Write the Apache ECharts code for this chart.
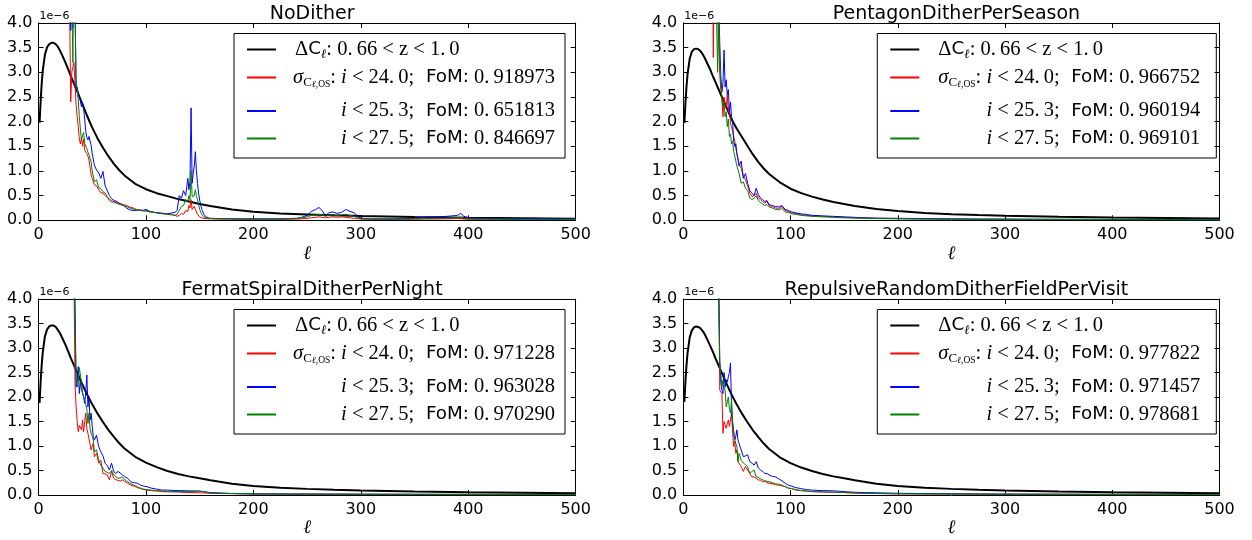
<!DOCTYPE html>
<html><head><meta charset="utf-8">
<script src="https://cdn.jsdelivr.net/npm/echarts/dist/echarts.min.js"></script>
<style>html,body{margin:0;padding:0;background:#fff}#c{width:1252px;height:540px}</style>
</head><body><div id="c"></div>
<script>
// ---------------- data (values in units of 1e-6) ----------------
const panelTitles = ['NoDither', 'PentagonDitherPerSeason', 'FermatSpiralDitherPerNight', 'RepulsiveRandomDitherFieldPerVisit'];
const xTicks = [0, 100, 200, 300, 400, 500];
const yTicks = [0.0, 0.5, 1.0, 1.5, 2.0, 2.5, 3.0, 3.5, 4.0];
const cutLabels = ['i < 24.0;', 'i < 25.3;', 'i < 27.5;'];
const fomND = ['0.918973', '0.651813', '0.846697'];
const fomPD = ['0.966752', '0.960194', '0.969101'];
const fomFS = ['0.971228', '0.963028', '0.970290'];
const fomRR = ['0.977822', '0.971457', '0.978681'];

// Delta C_ell (black)
const ellBlack = [1,2,3,4,6,8,10,12,14,16, 18,20,22,25,28,30,35,40,45,50, 55,60,65,70,75,80,90,100,110,120, 130,140,150,160,180,200,225,250,275,300, 350,400,450,500];
const blackND = [1.98,2.42,2.78,3.04,3.36,3.51,3.57,3.6,3.6,3.57, 3.52,3.44,3.35,3.2,3.04,2.93,2.67,2.4,2.13,1.88, 1.66,1.47,1.3,1.15,1.02,0.91,0.74,0.63,0.55,0.49, 0.43,0.38,0.33,0.29,0.22,0.175,0.14,0.12,0.1,0.085, 0.065,0.05,0.04,0.03];
const blackPD = [1.97,2.38,2.72,2.97,3.28,3.42,3.47,3.48,3.47,3.43, 3.37,3.29,3.2,3.06,2.9,2.8,2.55,2.3,2.05,1.85, 1.68,1.5,1.33,1.18,1.05,0.94,0.77,0.64,0.55,0.48, 0.42,0.37,0.33,0.29,0.23,0.19,0.15,0.125,0.105,0.09, 0.07,0.055,0.045,0.035];
const blackFS = [1.88,2.32,2.66,2.92,3.24,3.38,3.44,3.46,3.46,3.43, 3.37,3.3,3.21,3.07,2.91,2.8,2.55,2.3,2.06,1.85, 1.66,1.49,1.33,1.19,1.06,0.95,0.78,0.66,0.57,0.49, 0.43,0.38,0.34,0.3,0.23,0.185,0.15,0.125,0.105,0.09, 0.07,0.055,0.045,0.035];
const blackRR = [1.9,2.32,2.65,2.9,3.22,3.36,3.42,3.44,3.43,3.4, 3.35,3.28,3.19,3.05,2.9,2.79,2.54,2.29,2.05,1.84, 1.65,1.48,1.32,1.18,1.05,0.94,0.77,0.65,0.56,0.49, 0.43,0.38,0.34,0.3,0.23,0.185,0.15,0.125,0.105,0.09, 0.07,0.055,0.045,0.035];

// NoDither sigma curves
const ellND = [28,29,30,31,32,33,34,35,36,37, 38,39,40,41,42,43,44,45,46,47, 48,49,50,52,54,56,58,60,62,64, 66,68,70,73,76,79,82,85,88,91, 94,97,100,104,108,112,116,120,124,127, 129,131,133,135,137,139,140,141,142,143, 144,145,146,147,148,149,150,152,154,156, 158,160,170,180,190,200,210,220,230,240, 245,250,254,258,261,264,267,270,274,278, 282,286,290,294,298,302,310,320,330,340, 350,360,370,380,385,390,393,396,400,410, 420,440,460,480,500];
const redND = [6,6,2.4,3.0,3.1,3.2,2.75,2.35,2.1,1.9, 1.65,1.55,1.68,1.5,1.65,1.42,1.45,1.35,1.3,1.22, 1.08,0.92,0.85,0.72,0.7,0.62,0.56,0.55,0.5,0.46, 0.43,0.4,0.38,0.36,0.34,0.32,0.3,0.27,0.25,0.22, 0.21,0.2,0.19,0.17,0.16,0.15,0.14,0.13,0.12,0.1, 0.08,0.1,0.14,0.12,0.2,0.18,0.3,0.25,0.42,0.22, 0.2,0.28,0.22,0.18,0.12,0.1,0.07,0.05,0.04,0.035, 0.03,0.03,0.025,0.025,0.02,0.02,0.02,0.02,0.02,0.025, 0.03,0.04,0.05,0.06,0.07,0.06,0.05,0.06,0.07,0.06, 0.07,0.06,0.05,0.04,0.03,0.025,0.02,0.02,0.02,0.02, 0.02,0.025,0.025,0.03,0.03,0.035,0.03,0.025,0.02,0.02, 0.02,0.018,0.018,0.015,0.015];
const blueND = [6,6,3.85,4.6,3.9,6,4.4,2.65,2.7,2.58, 2.5,2.42,2.3,2.38,2.26,2.05,1.8,1.68,1.63,1.7, 1.7,1.52,1.35,1.12,1.02,0.96,0.85,0.99,0.7,0.6, 0.5,0.44,0.41,0.38,0.33,0.3,0.25,0.21,0.2,0.2, 0.21,0.2,0.22,0.18,0.16,0.15,0.14,0.13,0.15,0.16, 0.2,0.5,0.45,0.6,0.5,0.85,0.62,0.8,2.28,0.75, 0.95,1.1,1.39,1.0,0.75,0.55,0.41,0.22,0.12,0.07, 0.05,0.04,0.035,0.03,0.03,0.03,0.03,0.03,0.035,0.04, 0.06,0.1,0.18,0.22,0.26,0.2,0.09,0.15,0.17,0.14, 0.16,0.22,0.18,0.15,0.06,0.04,0.03,0.03,0.03,0.035, 0.04,0.06,0.07,0.08,0.09,0.1,0.14,0.08,0.05,0.04, 0.035,0.03,0.04,0.03,0.03];
const greenND = [6,6,6,4.5,3.2,6,4.2,2.85,2.65,2.45, 2.1,1.85,1.63,1.72,1.78,1.56,1.52,1.45,1.38,1.33, 1.29,1.18,1.0,0.78,0.82,0.66,0.64,0.58,0.55,0.48, 0.4,0.37,0.37,0.34,0.32,0.3,0.28,0.25,0.23,0.21, 0.2,0.19,0.19,0.17,0.16,0.14,0.13,0.12,0.11,0.1, 0.12,0.2,0.28,0.3,0.42,0.38,0.5,0.42,1.0,0.48, 0.45,0.5,0.62,0.5,0.42,0.32,0.22,0.12,0.07,0.05, 0.04,0.035,0.03,0.03,0.025,0.025,0.025,0.025,0.03,0.035, 0.05,0.07,0.1,0.11,0.12,0.11,0.08,0.1,0.11,0.1, 0.11,0.12,0.1,0.08,0.04,0.03,0.025,0.025,0.025,0.025, 0.03,0.035,0.04,0.045,0.05,0.055,0.06,0.045,0.03,0.025, 0.025,0.02,0.02,0.02,0.02];

// PentagonDitherPerSeason sigma curves
const ellPD = [27,28,29,30,31,32,33,34,35,36, 37,38,39,40,41,42,43,44,45,46, 47,48,49,50,52,54,56,58,60,62, 64,66,68,70,72,74,76,78,80,83, 86,89,92,95,98,101,105,110,115,120, 130,140,150,160,170,180,200,220,250,275, 300,325,350,375,400,425,450,475,500];
const redPD = [6,3.3,6,6,6,4.5,3.6,2.95,2.65,2.45, 2.1,2.5,2.35,2.3,2.55,2.2,2.3,1.95,1.9,1.8, 1.7,1.6,1.45,1.35,1.15,1.05,0.9,0.82,0.7,0.55, 0.48,0.5,0.55,0.45,0.42,0.38,0.35,0.38,0.3,0.28, 0.25,0.24,0.28,0.2,0.18,0.15,0.14,0.11,0.1,0.09, 0.08,0.07,0.06,0.05,0.045,0.04,0.035,0.03,0.025,0.022, 0.02,0.02,0.02,0.018,0.015,0.015,0.015,0.012,0.012];
const bluePD = [6,6,6,6,6,6,4.5,3.6,2.9,2.6, 2.8,3.45,2.7,2.85,2.55,2.65,2.2,2.4,2.1,2.0, 1.6,1.5,1.55,1.35,1.1,1.2,0.85,0.95,0.75,0.6, 0.55,0.5,0.65,0.52,0.45,0.42,0.38,0.4,0.32,0.3, 0.28,0.27,0.3,0.22,0.2,0.17,0.15,0.13,0.12,0.1, 0.09,0.08,0.07,0.06,0.05,0.045,0.04,0.035,0.03,0.025, 0.025,0.022,0.02,0.02,0.018,0.018,0.015,0.015,0.015];
const greenPD = [6,6,6,6,4.2,3.0,4.5,3.2,2.8,2.45, 2.3,2.4,2.1,2.2,1.9,2.05,1.7,1.75,1.55,1.6, 1.4,1.3,1.2,1.1,0.95,0.75,0.78,0.65,0.6,0.45, 0.42,0.45,0.5,0.4,0.36,0.33,0.3,0.32,0.27,0.25, 0.22,0.21,0.24,0.17,0.16,0.13,0.12,0.1,0.09,0.08, 0.07,0.06,0.05,0.045,0.04,0.035,0.03,0.025,0.02,0.018, 0.018,0.016,0.015,0.015,0.012,0.012,0.012,0.01,0.01];

// FermatSpiralDitherPerNight sigma curves
const ellFS = [30,31,32,33,34,35,36,37,38,39, 40,41,42,43,44,45,46,47,48,49, 50,51,52,54,56,58,60,62,64,66, 68,70,72,74,76,78,80,83,86,89, 92,95,98,101,105,110,115,120,130,140, 150,160,170,180,200,220,250,275,300,325, 350,375,400,425,450,475,500];
const redFS = [6,6,6,4.5,2.28,1.8,1.5,1.29,1.42,1.39, 1.33,1.53,1.29,1.5,1.67,1.35,1.26,1.15,1.12,0.92, 1.0,1.05,0.78,0.85,0.65,0.71,0.44,0.43,0.41,0.31, 0.48,0.34,0.31,0.3,0.28,0.31,0.28,0.24,0.2,0.18, 0.15,0.13,0.11,0.1,0.09,0.08,0.07,0.065,0.06,0.05, 0.045,0.035,0.03,0.028,0.022,0.02,0.018,0.016,0.015,0.014, 0.013,0.012,0.012,0.011,0.011,0.01,0.01];
const blueFS = [6,6,6,6,4.0,2.21,2.3,2.62,2.07,2.3, 2.15,2.14,2.0,1.87,2.1,2.45,1.8,2.0,1.53,1.67, 1.4,1.19,1.12,1.22,0.99,0.88,0.8,0.65,0.6,0.51, 0.65,0.48,0.44,0.48,0.45,0.41,0.38,0.34,0.27,0.25, 0.24,0.2,0.18,0.17,0.14,0.12,0.1,0.1,0.09,0.085, 0.08,0.05,0.04,0.03,0.022,0.02,0.018,0.016,0.015,0.014, 0.013,0.012,0.012,0.011,0.011,0.01,0.01];
const greenFS = [6,6,6,6,3.4,2.4,2.2,2.3,2.6,2.45, 2.3,2.1,2.0,1.95,1.85,1.75,1.46,1.67,1.35,1.26, 1.2,1.12,0.88,0.92,0.72,0.6,0.55,0.48,0.46,0.44, 0.5,0.42,0.37,0.34,0.35,0.37,0.32,0.27,0.23,0.2, 0.17,0.14,0.12,0.11,0.1,0.09,0.08,0.075,0.07,0.07, 0.08,0.04,0.035,0.03,0.025,0.022,0.02,0.018,0.016,0.015, 0.015,0.014,0.013,0.012,0.012,0.011,0.011];

// RepulsiveRandomDitherFieldPerVisit sigma curves
const ellRR = [30,31,32,33,34,35,36,37,38,39, 40,41,42,43,44,45,46,47,48,49, 50,51,52,54,56,58,60,62,64,66, 68,70,72,74,76,78,80,83,86,89, 92,95,98,101,105,110,115,120,130,140, 150,160,170,180,200,220,250,275,300,325, 350,375,400,425,450,475,500];
const redRR = [6,6,6,4.5,2.14,2.1,2.07,1.26,1.5,1.46, 1.36,1.45,1.53,1.4,1.39,1.67,1.26,0.99,1.1,0.85, 0.92,0.68,0.71,0.58,0.48,0.58,0.51,0.44,0.37,0.37, 0.34,0.31,0.3,0.27,0.28,0.25,0.24,0.23,0.21,0.2, 0.19,0.17,0.14,0.13,0.1,0.09,0.08,0.07,0.06,0.055, 0.05,0.04,0.035,0.03,0.025,0.022,0.02,0.018,0.016,0.015, 0.014,0.013,0.012,0.012,0.011,0.011,0.01];
const blueRR = [6,6,6,6,2.76,2.3,2.14,2.07,2.5,2.2, 2.35,2.3,2.41,2.5,2.69,1.8,1.46,1.3,1.12,1.2, 1.33,1.12,1.05,0.92,0.78,0.8,0.82,0.68,0.65,0.61, 0.68,0.55,0.51,0.48,0.44,0.44,0.41,0.38,0.37,0.33, 0.29,0.24,0.2,0.18,0.15,0.13,0.11,0.1,0.09,0.085, 0.07,0.055,0.05,0.045,0.035,0.03,0.025,0.02,0.018,0.016, 0.015,0.014,0.013,0.012,0.012,0.011,0.011];
const greenRR = [6,6,6,4.0,2.69,2.45,2.21,2.35,2.2,2.14, 1.8,1.9,2.0,1.75,1.67,1.94,1.5,1.26,1.12,1.05, 0.99,0.68,0.85,0.71,0.65,0.62,0.58,0.44,0.48,0.51, 0.37,0.36,0.33,0.31,0.29,0.28,0.27,0.25,0.23,0.22, 0.2,0.17,0.14,0.13,0.11,0.09,0.08,0.07,0.065,0.06, 0.05,0.04,0.035,0.03,0.025,0.022,0.02,0.018,0.016,0.015, 0.014,0.013,0.012,0.012,0.011,0.011,0.01];

// ---------------- build ----------------
const panels = [
  {ell: ellND, red: redND, blue: blueND, green: greenND, black: blackND, fom: fomND},
  {ell: ellPD, red: redPD, blue: bluePD, green: greenPD, black: blackPD, fom: fomPD},
  {ell: ellFS, red: redFS, blue: blueFS, green: greenFS, black: blackFS, fom: fomFS},
  {ell: ellRR, red: redRR, blue: blueRR, green: greenRR, black: blackRR, fom: fomRR}
];
const grids = [
  {left: 38.5, top: 23, width: 537.2, height: 197.3},
  {left: 683.3, top: 23, width: 536.2, height: 197.3},
  {left: 38.5, top: 299, width: 537.2, height: 196},
  {left: 683.3, top: 299, width: 536.2, height: 196}
];
const zip = (xs, ys) => xs.map((x, i) => [x, ys[i]]);
const SANS = 'DejaVu Sans';
const SERIF = 'Liberation Serif';

const xAxes = [], yAxes = [], series = [], titles = [], graphics = [];
grids.forEach((g, i) => {
  const tick = {show: true, inside: true, length: 5, lineStyle: {color: '#000', width: 1}};
  const line = {show: true, onZero: false, lineStyle: {color: '#000', width: 1}};
  xAxes.push({gridIndex: i, type: 'value', min: xTicks[0], max: xTicks[xTicks.length - 1], interval: xTicks[1] - xTicks[0],
    position: 'bottom', axisLine: line, axisTick: tick, splitLine: {show: false},
    axisLabel: {color: '#000', fontSize: 16, fontFamily: SANS, margin: 7},
    name: 'ℓ', nameLocation: 'middle', nameGap: 24,
    nameTextStyle: {color: '#000', fontSize: 19, fontFamily: 'DejaVu Serif', fontStyle: 'italic'}});
  xAxes.push({gridIndex: i, type: 'value', min: xTicks[0], max: xTicks[xTicks.length - 1], interval: xTicks[1] - xTicks[0],
    position: 'top', axisLine: line, axisTick: tick, splitLine: {show: false}, axisLabel: {show: false}});
  yAxes.push({gridIndex: i, type: 'value', min: yTicks[0], max: yTicks[yTicks.length - 1], interval: yTicks[1] - yTicks[0],
    position: 'left', axisLine: line, axisTick: tick, splitLine: {show: false},
    axisLabel: {color: '#000', fontSize: 16, fontFamily: SANS, margin: 6, formatter: v => v.toFixed(1)}});
  yAxes.push({gridIndex: i, type: 'value', min: yTicks[0], max: yTicks[yTicks.length - 1], interval: yTicks[1] - yTicks[0],
    position: 'right', axisLine: line, axisTick: tick, splitLine: {show: false}, axisLabel: {show: false}});

  const p = panels[i];
  const base = {type: 'line', xAxisIndex: 2 * i, yAxisIndex: 2 * i, showSymbol: false, symbol: 'none', animation: false, clip: true, silent: true};
  series.push(Object.assign({}, base, {name: 'dC' + i, data: zip(ellBlack, p.black), lineStyle: {color: '#000', width: 2}, z: 2}));
  series.push(Object.assign({}, base, {name: 'red' + i, data: zip(p.ell, p.red), lineStyle: {color: '#ff0000', width: 1}, z: 3}));
  series.push(Object.assign({}, base, {name: 'blue' + i, data: zip(p.ell, p.blue), lineStyle: {color: '#0000ff', width: 1}, z: 4}));
  series.push(Object.assign({}, base, {name: 'green' + i, data: zip(p.ell, p.green), lineStyle: {color: '#008000', width: 1}, z: 5}));

  titles.push({text: panelTitles[i], left: g.left + g.width / 2, top: g.top - 23, textAlign: 'center',
    textStyle: {color: '#000', fontSize: 19, fontWeight: 'normal', fontFamily: SANS}});

  // offset label
  graphics.push({type: 'text', x: g.left + 1, y: g.top - 1, z: 50,
    style: {text: '1e\u22126', fill: '#000', font: '11px "DejaVu Sans"', verticalAlign: 'bottom', align: 'left'}});

  // legend box
  const bw = (i % 2 === 0) ? 331 : 339;
  const bh = 124.5;
  const bx = (i % 2 === 0) ? 234 : 877.3;
  const by = g.top + 10.5;
  const rows = [16, 44, 77.5, 105];
  const cols = ['#000', '#ff0000', '#0000ff', '#008000'];
  const rich = {
    m: {fontFamily: SERIF, fontSize: 20.5, lineHeight: 24},
    it: {fontFamily: SERIF, fontSize: 20.5, fontStyle: 'italic', lineHeight: 24},
    s: {fontFamily: SANS, fontSize: 18.3, lineHeight: 24},
    sub: {fontFamily: SERIF, fontSize: 13, lineHeight: 10, verticalAlign: 'bottom'},
    subit: {fontFamily: SERIF, fontSize: 13, fontStyle: 'italic', lineHeight: 10, verticalAlign: 'bottom'},
    ss: {fontFamily: SERIF, fontSize: 9.5, lineHeight: 4, verticalAlign: 'bottom'},
    ssit: {fontFamily: SERIF, fontSize: 9.5, fontStyle: 'italic', lineHeight: 4, verticalAlign: 'bottom'}
  };
  const children = [{type: 'rect', shape: {x: 0, y: 0, width: bw, height: bh}, style: {fill: '#fff', stroke: '#000', lineWidth: 1}}];
  rows.forEach((ry, k) => children.push({type: 'line', shape: {x1: 13, y1: ry, x2: 42, y2: ry},
    style: {stroke: cols[k], lineWidth: 2}}));
  children.push({type: 'text', x: 61, y: rows[0], style: {text: '{m|\u0394}{s|C}{subit|ℓ}{m|: 0.\u200966 < z < 1.\u20090}', rich: rich, fill: '#000', align: 'left', verticalAlign: 'middle'}});
  const rx = bw - ((i % 2 === 0) ? 10 : 16);
  const cut = s => s.replace('i', '{it|i}{m|').replace(';', ';}').replace('.', '.\u2009');
  children.push({type: 'text', x: rx, y: rows[1], style: {text: '{it|σ}{sub|C}{ssit|ℓ}{ss|,OS}{m|: }' + cut(cutLabels[0]) + '{s|  FoM:}{m| 0.\u2009' + p.fom[0].slice(2) + '}', rich: rich, fill: '#000', align: 'right', verticalAlign: 'middle'}});
  children.push({type: 'text', x: rx, y: rows[2], style: {text: cut(cutLabels[1]) + '{s|  FoM:}{m| 0.\u2009' + p.fom[1].slice(2) + '}', rich: rich, fill: '#000', align: 'right', verticalAlign: 'middle'}});
  children.push({type: 'text', x: rx, y: rows[3], style: {text: cut(cutLabels[2]) + '{s|  FoM:}{m| 0.\u2009' + p.fom[2].slice(2) + '}', rich: rich, fill: '#000', align: 'right', verticalAlign: 'middle'}});
  graphics.push({type: 'group', x: bx, y: by, z: 100, children: children});
});

const chart = echarts.init(document.getElementById('c'), null, {renderer: 'canvas'});
chart.setOption({
  backgroundColor: '#fff',
  animation: false,
  title: titles,
  grid: grids,
  xAxis: xAxes,
  yAxis: yAxes,
  series: series,
  graphic: graphics
});
</script></body></html>
